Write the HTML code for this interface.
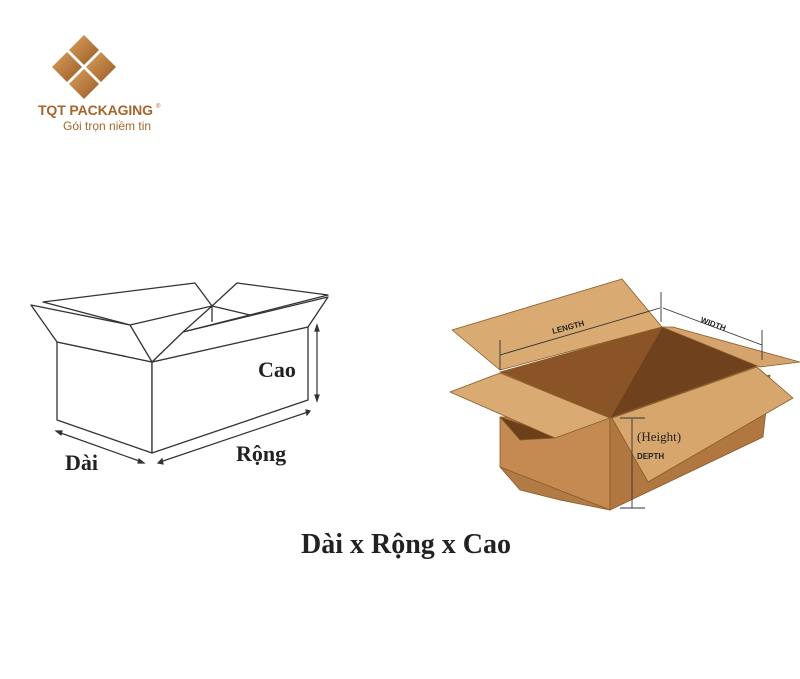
<!DOCTYPE html>
<html><head><meta charset="utf-8"><style>
body{margin:0;background:#fff;width:800px;height:679px;overflow:hidden}
svg{display:block}
</style></head><body>
<svg width="800" height="679" viewBox="0 0 800 679" xmlns="http://www.w3.org/2000/svg">
<defs>
<linearGradient id="g" x1="0" y1="0" x2="1" y2="1"><stop offset="0" stop-color="#d9a05e"/><stop offset="1" stop-color="#9a5a25"/></linearGradient>
</defs>
<g fill="url(#g)">
<polygon points="84,35 99,50 84,65 69,50"/>
<polygon points="101,52 116,67 101,82 86,67"/>
<polygon points="84,69 99,84 84,99 69,84"/>
<polygon points="67,52 82,67 67,82 52,67"/>
</g>
<text x="38" y="115" font-family="Liberation Sans, sans-serif" font-weight="bold" font-size="14" fill="#a5652c" textLength="115">TQT PACKAGING</text>
<text x="156" y="108" font-family="Liberation Sans, sans-serif" font-size="6" fill="#a5652c">®</text>
<text x="63" y="130" font-family="Liberation Sans, sans-serif" font-size="12" fill="#a5652c">Gói trọn niềm tin</text>

<g fill="#fff" stroke="#333" stroke-width="1.3" stroke-linejoin="round">
<polygon points="43,302 195,283 212,306 130,325"/>
<polygon points="212,306 237,283 328,295 183,332"/>
<line x1="212" y1="306" x2="212" y2="322"/>
<line x1="212" y1="306" x2="250" y2="315"/>
<polygon points="57,342 152,362 152,453 57,420"/>
<polygon points="152,362 308,327 308,400 152,453"/>
<polygon points="57,342 31,305 130,325 152,362"/>
<polygon points="152,362 183,332 328,297 308,327"/>
</g>
<g stroke="#333" stroke-width="1.2" fill="#333">
<line x1="317" y1="328" x2="317" y2="398"/>
<polygon points="317,325 315,331 319,331"/><polygon points="317,401 315,395 319,395"/>
<line x1="58" y1="432" x2="142" y2="462"/>
<polygon points="56,431 62,431 61,435"/><polygon points="144,463 138,463 139,459"/>
<line x1="160" y1="462" x2="308" y2="412"/>
<polygon points="158,463 162,459 163,464"/><polygon points="310,411 306,410 307,415"/>
</g>
<g font-family="Liberation Serif, serif" font-weight="bold" fill="#222">
<text x="258" y="377" font-size="22">Cao</text>
<text x="65" y="470" font-size="22">Dài</text>
<text x="236" y="461" font-size="22">Rộng</text>
<text x="406" y="553" font-size="28" text-anchor="middle">Dài x Rộng x Cao</text>
</g>

<g stroke="#8a5a2a" stroke-width="0.8" stroke-linejoin="round">
<polygon points="500,417 610,418 610,510 500,467" fill="#c48a52"/>
<polygon points="500,467 610,510 560,500 520,490" fill="#b27a45"/>
<polygon points="610,418 770,375 763,437 610,510" fill="#b07840"/>
<polygon points="500,372 662,327 760,365 610,418" fill="#8a5426"/>
<polygon points="662,327 760,365 610,418" fill="#6f411c"/>
<polygon points="452,330 622,279 662,327 500,370" fill="#d9aa72"/>
<polygon points="673,327 800,362 760,367 662,327" fill="#d4a46c"/>
<polygon points="500,417 540,430 555,438 520,440" fill="#6a3f1a"/>
<polygon points="612,418 757,367 793,398 648,482" fill="#d6a66d"/>
<polygon points="450,392 500,373 610,418 555,438" fill="#d9aa72"/>
</g>
<g stroke="#333" stroke-width="0.9" fill="none">
<line x1="500" y1="355" x2="660" y2="308"/>
<line x1="500" y1="340" x2="500" y2="370"/>
<line x1="661" y1="292" x2="661" y2="322"/>
<line x1="663" y1="308" x2="762" y2="345"/>
<line x1="762" y1="330" x2="762" y2="360"/>
<line x1="632" y1="419" x2="632" y2="508"/>
<line x1="620" y1="418" x2="645" y2="418"/>
<line x1="620" y1="508" x2="645" y2="508"/>
</g>
<text x="553" y="334" font-family="Liberation Sans, sans-serif" font-weight="bold" font-size="8" fill="#222" transform="rotate(-15 553 334)">LENGTH</text>
<text x="700" y="322" font-family="Liberation Sans, sans-serif" font-weight="bold" font-size="8" fill="#222" transform="rotate(20 700 322)">WIDTH</text>
<text x="637" y="441" font-family="Liberation Serif, serif" font-size="13" fill="#222">(Height)</text>
<text x="637" y="459" font-family="Liberation Sans, sans-serif" font-weight="bold" font-size="8" fill="#222">DEPTH</text>
</svg>
</body></html>
